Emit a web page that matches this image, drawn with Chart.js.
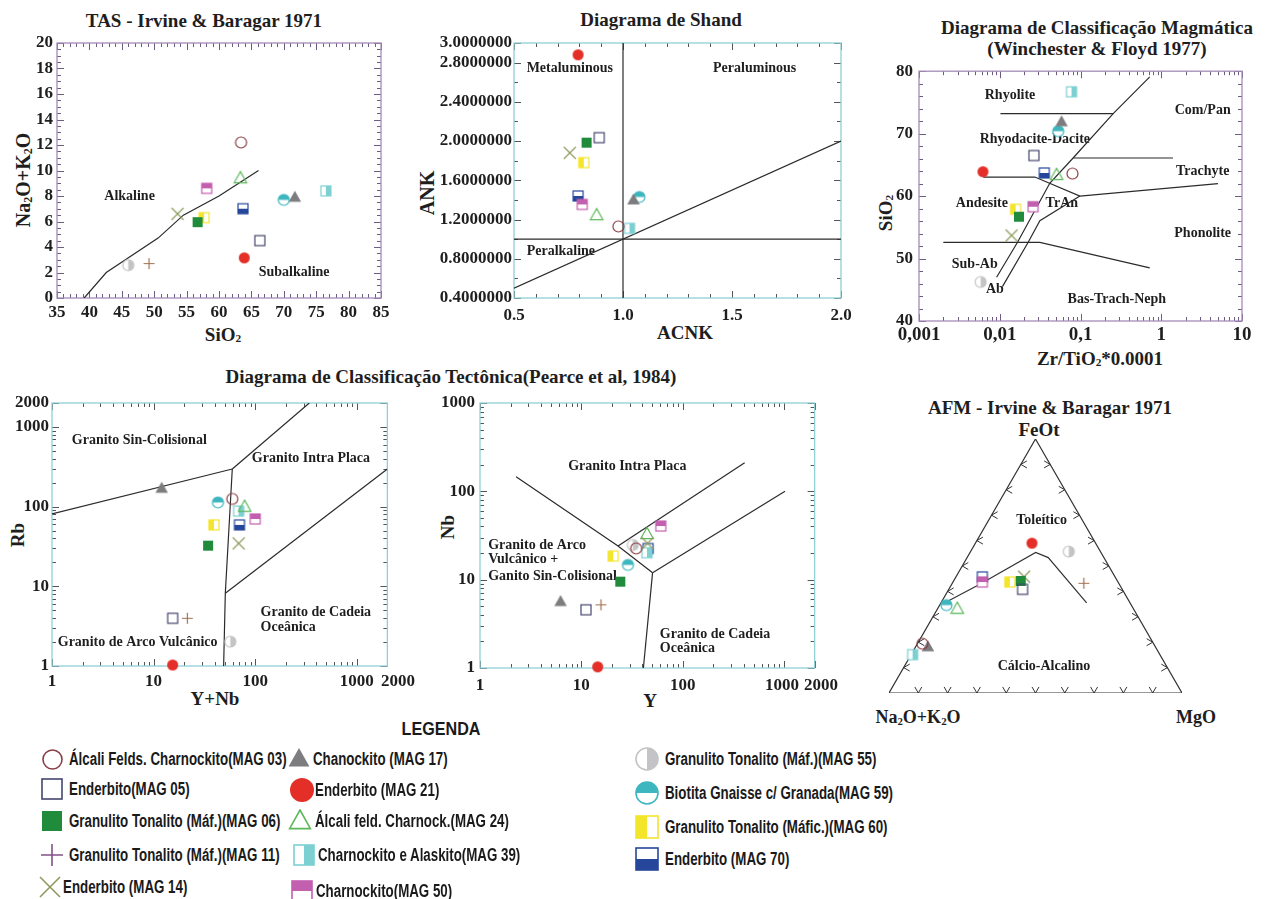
<!DOCTYPE html>
<html lang="pt">
<head>
<meta charset="utf-8">
<title>Diagramas geoquimicos</title>
<script src="https://cdn.jsdelivr.net/npm/chart.js@4.4.1/dist/chart.umd.min.js"></script>
<style>
  body { margin:0; width:1271px; height:899px; position:relative; overflow:hidden; background:#fff;
         font-family:"Liberation Serif","Times New Roman",serif; color:#1e1e1e; }
  canvas { position:absolute; }
  .t { position:absolute; font-weight:bold; white-space:nowrap; transform:translate(-50%,-50%); line-height:1; }
  .r { transform:translate(-50%,-50%) rotate(-90deg); }
  .t sub { font-size:0.6em; vertical-align:-0.15em; line-height:0; }
  .lg { position:absolute; font-family:"Liberation Sans",Arial,sans-serif; font-weight:bold; font-size:18px;
        white-space:nowrap; transform-origin:0 50%; transform:translateY(-50%) scaleX(0.74); line-height:1; color:#1a1a1a; }
  .head { position:absolute; font-family:"Liberation Sans",Arial,sans-serif; font-weight:bold; font-size:19px;
          transform:translate(-50%,-50%) scaleX(0.85); line-height:1; color:#1a1a1a; }
</style>
</head>
<body>

<!-- titles -->
<div class="t" style="left:204px;top:20px;font-size:19px">TAS - Irvine &amp; Baragar 1971</div>
<div class="t" style="left:661px;top:19px;font-size:19px">Diagrama de Shand</div>
<div class="t" style="left:1097px;top:27px;font-size:19px">Diagrama de Classificação Magmática</div>
<div class="t" style="left:1097px;top:48px;font-size:19px">(Winchester &amp; Floyd 1977)</div>
<div class="t" style="left:451px;top:376px;font-size:19px">Diagrama de Classificação Tectônica(Pearce et al, 1984)</div>
<div class="t" style="left:1050px;top:407px;font-size:19px">AFM - Irvine &amp; Baragar 1971</div>
<div class="t" style="left:1039px;top:429px;font-size:19px">FeOt</div>
<div class="t" style="left:918px;top:717px;font-size:18px">Na<sub>2</sub>O+K<sub>2</sub>O</div>
<div class="t" style="left:1196px;top:717px;font-size:18px">MgO</div>

<!-- axis titles -->
<div class="t" style="left:223px;top:334px;font-size:19px">SiO<sub>2</sub></div>
<div class="t r" style="left:23px;top:180px;font-size:20px">Na<sub>2</sub>O+K<sub>2</sub>O</div>
<div class="t" style="left:685px;top:332px;font-size:19px">ACNK</div>
<div class="t r" style="left:427px;top:193px;font-size:20px">ANK</div>
<div class="t" style="left:1100px;top:358px;font-size:19px">Zr/TiO<sub>2</sub>*0.0001</div>
<div class="t r" style="left:885px;top:213px;font-size:19px">SiO<sub>2</sub></div>
<div class="t" style="left:215px;top:698px;font-size:19px">Y+Nb</div>
<div class="t r" style="left:17px;top:535px;font-size:19px">Rb</div>
<div class="t" style="left:650px;top:700px;font-size:19px">Y</div>
<div class="t r" style="left:447px;top:527px;font-size:19px">Nb</div>

<div class="head" style="left:441px;top:728px">LEGENDA</div>

<script>
// AMOSTRAS
const samples = ['MAG 03','MAG 05','MAG 06','MAG 11','MAG 14','MAG 17','MAG 21','MAG 24','MAG 39','MAG 50','MAG 55','MAG 59','MAG 60','MAG 70'];
const names = ['Álcali Felds. Charnockito(MAG 03)','Enderbito(MAG 05)','Granulito Tonalito (Máf.)(MAG 06)',
  'Granulito Tonalito (Máf.)(MAG 11)','Enderbito (MAG 14)','Chanockito (MAG 17)','Enderbito (MAG 21)',
  'Álcali feld. Charnock.(MAG 24)','Charnockito e Alaskito(MAG 39)','Charnockito(MAG 50)',
  'Granulito Tonalito (Máf.)(MAG 55)','Biotita Gnaisse c/ Granada(MAG 59)','Granulito Tonalito (Máfic.)(MAG 60)','Enderbito (MAG 70)'];

// TAS
const tasSiO2 = [63.4, 66.3, 56.7, 49.2, 53.6, 71.7, 63.9, 63.3, 76.5, 58.1, 46.0, 70.0, 57.7, 63.7];
const tasAlk  = [12.2, 4.5, 5.95, 2.7, 6.6, 7.9, 3.15, 9.4, 8.4, 8.6, 2.57, 7.7, 6.3, 7.0];
const tasLine = [[39.2,0],[42.6,2],[50.6,4.7],[54.5,6.5],[60,8],[66.1,10]];

// SHAND
const acnk = [0.979, 0.891, 0.833, null, 0.756, 1.048, 0.794, 0.879, 1.03, 0.813, null, 1.075, 0.82, 0.794];
const ank  = [1.13, 2.035, 1.984, null, 1.88, 1.40, 2.88, 1.245, 1.11, 1.354, null, 1.43, 1.78, 1.44];

// WINCHESTER & FLOYD
const zrTi = [0.0796, 0.0265, 0.0173, null, 0.014, 0.0582, 0.0062, 0.0505, 0.0775, 0.0259, 0.0058, 0.053, 0.0157, 0.0356];
const wfSiO2 = [63.6, 66.5, 56.7, null, 53.7, 71.9, 63.9, 63.4, 76.7, 58.3, 46.25, 70.4, 57.9, 63.7];
const wfLines = [
  [[0.0102,73.2],[0.254,73.2]],
  [[0.00914,47.0],[0.0166,52.6],[0.0418,62.1],[0.081,66.1],[0.254,73.2],[0.72,79.1]],
  [[0.081,66.1],[1.4,66.1]],
  [[0.00625,63.05],[0.0272,63.05],[0.0983,60.0],[5.05,62.0]],
  [[0.0108,45.5],[0.0225,52.6],[0.0314,56.05],[0.0983,60.0]],
  [[0.002,52.6],[0.0314,52.6],[0.72,48.5]]
];

// PEARCE Rb x Y+Nb
const yNb = [59.5, 15.4, 34.4, 21.5, 68.7, 12.0, 15.4, 78.6, 68.7, 100, 56.9, 43, 39.3, 70];
const rb  = [125, 3.97, 32.4, 3.97, 34.6, 170, 1.03, 100, 88, 70, 2.02, 113, 59, 59];
const p1Lines = [
  [[1,80.9],[59.5,297]],
  [[59.5,297],[50.8,8.17],[48.9,1]],
  [[59.5,297],[341,2000]],
  [[50.8,8.17],[2000,297]]
];

// PEARCE Nb x Y
const yv = [34.7, 11.1, 24.2, 15.6, 45, 6.23, 14.5, 44.4, 44.4, 60.7, 32.2, 28.8, 20.6, 45.5];
const nb = [22.6, 4.56, 9.5, 5.19, 25.8, 5.66, 1.03, 32.9, 20.2, 40.5, 24.7, 14.7, 18.5, 22.5];
const p2Lines = [
  [[2.27,146],[23,24],[50.4,12]],
  [[23,24],[408,210]],
  [[50.4,12],[1021,100]],
  [[50.4,12],[40.9,1]]
];

// AFM (Na2O+K2O, FeOt, MgO)
const afmA = [78.9, 34.0, 33.0, 11.9, 31.0, 77.6, 21.7, 60.1, 84.4, 46.3, 10.8, 63.1, 36.9, 45.3];
const afmF = [19.4, 40.8, 44.1, 43.2, 45.8, 18.2, 59.0, 33.2, 15.1, 43.7, 55.7, 34.6, 43.7, 45.7];
const afmM = [1.7, 25.2, 22.9, 44.9, 23.2, 4.2, 19.3, 6.7, 0.5, 10.0, 33.5, 2.3, 19.4, 9.0];
const afmLine = [[61.7,36.2,2.1],[47.6,42.8,9.6],[22.3,55.3,22.4],[19.0,53.3,27.7],[14.8,35.5,49.7]];

// tick values
const tasXTicks = [35,40,45,50,55,60,65,70,75,80,85];
const tasYTicks = [0,2,4,6,8,10,12,14,16,18,20];
const shandXTicks = [0.5,1.0,1.5,2.0];
const shandYTicks = [0.4,0.8,1.2,1.6,2.0,2.4,2.8,3.0];
const wfXTicks = [0.001,0.01,0.1,1,10];
const wfYTicks = [40,50,60,70,80];
const pearceTicks = [1,10,100,1000,2000];

// region names (text, x, y, align)
const tasLabels = [['Alkaline',46.2,8.0],['Subalkaline',71.6,2.0]];
const shandLabels = [['Metaluminous',0.756,2.744],['Peraluminous',1.604,2.744],['Peralkaline',0.715,0.877]];
const wfLabels = [['Rhyolite',0.0134,76.2],['Com/Pan',3.26,73.7],['Rhyodacite-Dacite',0.0272,69.1],['Trachyte',3.26,64.0],
  ['Andesite',0.006,58.9],['TrAn',0.0587,58.9],['Phonolite',3.26,54.1],['Sub-Ab',0.0049,49.1],['Ab',0.0087,45.1],['Bas-Trach-Neph',0.282,43.5]];
const p1Labels = [['Granito Sin-Colisional',7.23,687],['Granito Intra Placa',354,404],['Granito de Cadeia',113,4.67,'left'],
  ['Oceânica',113,3.06,'left'],['Granito de Arco Vulcânico',6.97,1.96]];
const p2Labels = [['Granito Intra Placa',28.4,193],['Granito de Arco',1.205,24.7,'left'],['Vulcânico +',1.205,17.0,'left'],
  ['Ganito Sin-Colisional',1.205,10.8,'left'],['Granito de Cadeia',59.4,2.38,'left'],['Oceânica',59.4,1.65,'left']];
const afmLabels = [['Toleítico',14.0,67.8,18.2],['Cálcio-Alcalino',41.9,10.4,47.7]];

//SYMBOLS
const symbols = [
  {shape:'circle', color:'#8a3d45'},
  {shape:'square', color:'#45456e'},
  {shape:'square', fill:true, color:'#1f8b3b'},
  {shape:'plus', color:'#a07050', legendColor:'#84508a'},
  {shape:'cross', color:'#8c9a5c'},
  {shape:'tri', fill:true, color:'#7d7d80'},
  {shape:'circle', fill:true, color:'#e42f28'},
  {shape:'tri', color:'#5db85b'},
  {shape:'half', part:'right', color:'#7dd0d2'},
  {shape:'half', part:'top', color:'#c25fae'},
  {shape:'halfc', part:'right', color:'#c4c4c6'},
  {shape:'halfc', part:'top', color:'#3db6bf'},
  {shape:'half', part:'left', color:'#f3e52a'},
  {shape:'half', part:'bottom', color:'#26469b'}
];

function symbolCanvas(k, s, legend) {
  const sym = symbols[k];
  const col = legend && sym.legendColor ? sym.legendColor : sym.color;
  const c = document.createElement('canvas');
  c.width = c.height = Math.ceil(s + 4);
  const g = c.getContext('2d');
  g.translate(c.width / 2, c.height / 2);
  const h = s / 2;
  g.lineWidth = legend ? 1.6 : 1.2;
  g.strokeStyle = col; g.fillStyle = col;
  g.beginPath();
  if (sym.shape === 'circle') {
    g.arc(0, 0, h, 0, Math.PI * 2);
    if (sym.fill) g.fill(); else g.stroke();
  } else if (sym.shape === 'square') {
    if (sym.fill) g.fillRect(-h, -h, s, s); else g.strokeRect(-h, -h, s, s);
  } else if (sym.shape === 'tri') {
    g.moveTo(0, -0.55 * s); g.lineTo(0.52 * s, 0.38 * s); g.lineTo(-0.52 * s, 0.38 * s); g.closePath();
    if (sym.fill) g.fill(); else g.stroke();
  } else if (sym.shape === 'plus') {
    g.moveTo(-h, 0); g.lineTo(h, 0); g.moveTo(0, -h); g.lineTo(0, h); g.stroke();
  } else if (sym.shape === 'cross') {
    g.moveTo(-h, -h); g.lineTo(h, h); g.moveTo(-h, h); g.lineTo(h, -h); g.stroke();
  } else if (sym.shape === 'half') {
    g.fillStyle = '#fff'; g.fillRect(-h, -h, s, s);
    g.fillStyle = col;
    const r = {left:[-h,-h,h,s], right:[0,-h,h,s], top:[-h,-h,s,h], bottom:[-h,0,s,h]}[sym.part];
    g.fillRect(r[0], r[1], r[2], r[3]);
    g.strokeRect(-h, -h, s, s);
  } else if (sym.shape === 'halfc') {
    g.fillStyle = '#fff'; g.arc(0, 0, h, 0, Math.PI * 2); g.fill();
    g.save();
    g.beginPath();
    if (sym.part === 'right') g.rect(0, -h - 1, h + 1, s + 2); else g.rect(-h - 1, -h - 1, s + 2, h + 1);
    g.clip();
    g.fillStyle = col; g.beginPath(); g.arc(0, 0, h, 0, Math.PI * 2); g.fill();
    g.restore();
    g.beginPath(); g.arc(0, 0, h, 0, Math.PI * 2); g.stroke();
  }
  return c;
}

const chartSizes = [11, 10, 10, 11, 12, 12, 11, 12, 10, 10, 11, 11, 10, 10];
const chartIcons = samples.map((s, i) => symbolCanvas(i, chartSizes[i], false));

function makeCanvas(left, top, w, h) {
  const cv = document.createElement('canvas');
  cv.width = w; cv.height = h;
  cv.style.left = left + 'px'; cv.style.top = top + 'px';
  cv.style.width = w + 'px'; cv.style.height = h + 'px';
  document.body.appendChild(cv);
  return cv;
}

function range(a, b, st) { const r = []; for (let v = a; v <= b + 1e-9; v += st) r.push(+v.toFixed(6)); return r; }
function logMinor(a, b) { const r = []; for (let d = a; d < b; d *= 10) for (let k = 2; k <= 9; k++) if (d * k <= b * 1.0001) r.push(d * k); return r; }

const TF = {family:'Liberation Serif', size:17, weight:'bold'};

// frame, inner ticks and region names
function decor(p) {
  return {
    id: 'decor',
    beforeDatasetsDraw(chart) {
      const {ctx, chartArea: a, scales: {x, y}} = chart;
      ctx.save();
      ctx.strokeStyle = p.tickColor; ctx.lineWidth = 1;
      ctx.beginPath();
      const xt = (vals, len) => vals.forEach(v => {
        const px = Math.round(x.getPixelForValue(v)) + 0.5;
        ctx.moveTo(px, a.bottom); ctx.lineTo(px, a.bottom - len);
        ctx.moveTo(px, a.top); ctx.lineTo(px, a.top + len);
      });
      const yt = (vals, len) => vals.forEach(v => {
        const py = Math.round(y.getPixelForValue(v)) + 0.5;
        ctx.moveTo(a.left, py); ctx.lineTo(a.left + len, py);
        ctx.moveTo(a.right, py); ctx.lineTo(a.right - len, py);
      });
      xt(p.xTicks, 7); xt(p.xMinor, 4); yt(p.yTicks, 7); yt(p.yMinor, 4);
      ctx.stroke();
      ctx.strokeStyle = p.frame; ctx.lineWidth = 1.3;
      ctx.strokeRect(a.left, a.top, a.right - a.left, a.bottom - a.top);
      ctx.fillStyle = '#1e1e1e'; ctx.font = 'bold 14px "Liberation Serif"'; ctx.textBaseline = 'middle';
      p.labels.forEach(l => {
        ctx.textAlign = l[3] || 'center';
        ctx.fillText(l[0], x.getPixelForValue(l[1]), y.getPixelForValue(l[2]));
      });
      ctx.restore();
    }
  };
}

function panel(p) {
  const cv = makeCanvas(p.box[0], p.box[1], p.box[2], p.box[3]);
  const datasets = [];
  p.lines.forEach(l => datasets.push({
    data: l.map(q => ({x: q[0], y: q[1]})), showLine: true, borderColor: '#2b2b2b',
    borderWidth: 1.2, pointRadius: 0, order: 2
  }));
  samples.forEach((s, i) => {
    if (p.xs[i] == null) return;
    datasets.push({label: s, data: [{x: p.xs[i], y: p.ys[i]}], pointStyle: chartIcons[i], pointRadius: 6, clip: false, order: 1});
  });
  return new Chart(cv, {
    type: 'scatter',
    data: {datasets},
    options: {
      responsive: false, animation: false, events: [], devicePixelRatio: 1,
      layout: {padding: {top: p.pt, right: p.pr, bottom: 0, left: 0}},
      plugins: {legend: {display: false}, tooltip: {enabled: false}},
      scales: {
        x: {
          type: p.xType, min: p.xMin, max: p.xMax,
          grid: {display: false, drawTicks: false}, border: {display: false},
          afterFit: s => { s.height = p.H; },
          afterBuildTicks: s => { s.ticks = p.xTicks.map(v => ({value: v})); },
          ticks: {font: p.xFont || TF, color: '#1e1e1e', padding: p.xPad, autoSkip: false, maxRotation: 0, minRotation: 0, callback: p.xFmt}
        },
        y: {
          type: p.yType, min: p.yMin, max: p.yMax,
          grid: {display: false, drawTicks: false}, border: {display: false},
          afterFit: s => { s.width = p.W; },
          afterBuildTicks: s => { s.ticks = p.yTicks.map(v => ({value: v})); },
          ticks: {font: TF, color: '#1e1e1e', padding: p.yPad, autoSkip: false, callback: p.yFmt}
        }
      }
    },
    plugins: [decor(p)]
  });
}

const purpleFrame = '#a58cb8', cyanFrame = '#8fd0d6';

// TAS
panel({box: [0, 25, 401, 323], W: 57, H: 50, pt: 18, pr: 20, xPad: 4, yPad: 4,
  xType: 'linear', xMin: 35, xMax: 85, yType: 'linear', yMin: 0, yMax: 20,
  xTicks: tasXTicks, yTicks: tasYTicks, xMinor: range(35, 85, 1), yMinor: range(0, 20, 0.5),
  xFmt: v => String(v), yFmt: v => String(v),
  frame: purpleFrame, tickColor: '#6e5b80', labels: tasLabels,
  lines: [tasLine], xs: tasSiO2, ys: tasAlk});

// SHAND
panel({box: [410, 25, 451, 323], W: 104, H: 50, pt: 18, pr: 20, xPad: 7, yPad: 2,
  xType: 'linear', xMin: 0.5, xMax: 2.0, yType: 'linear', yMin: 0.4, yMax: 3.0,
  xTicks: shandXTicks, yTicks: shandYTicks, xMinor: range(0.5, 2.0, 0.1), yMinor: range(0.4, 3.0, 0.2),
  xFmt: v => v.toFixed(1), yFmt: v => v.toFixed(7),
  frame: cyanFrame, tickColor: '#555', labels: shandLabels,
  lines: [[[1, 0.4], [1, 3]], [[0.5, 1], [2, 1]], [[0.5, 0.5], [2, 2]]], xs: acnk, ys: ank});

// WINCHESTER & FLOYD
panel({box: [860, 55, 402, 316], W: 59, H: 50, pt: 14, pr: 20, xPad: 3, yPad: 6,
  xType: 'logarithmic', xMin: 0.001, xMax: 10, yType: 'linear', yMin: 40, yMax: 80,
  xTicks: wfXTicks, yTicks: wfYTicks, xMinor: logMinor(0.001, 10), yMinor: range(40, 80, 2),
  xFont: {family:'Liberation Serif', size:19, weight:'bold'},
  xFmt: v => String(v).replace('.', ','), yFmt: v => String(v),
  frame: purpleFrame, tickColor: '#6e5b80', labels: wfLabels,
  lines: wfLines, xs: zrTi, ys: wfSiO2});

// PEARCE Rb
panel({box: [0, 385, 420, 311], W: 52, H: 30, pt: 18, pr: 32, xPad: 5, yPad: 3,
  xType: 'logarithmic', xMin: 1, xMax: 2000, yType: 'logarithmic', yMin: 1, yMax: 2000,
  xTicks: pearceTicks, yTicks: pearceTicks, xMinor: logMinor(1, 2000), yMinor: logMinor(1, 2000),
  xFmt: v => v === 2000 ? '     2000' : String(v), yFmt: v => String(v),
  frame: cyanFrame, tickColor: '#555', labels: p1Labels,
  lines: p1Lines, xs: yNb, ys: rb});

// PEARCE Nb
panel({box: [420, 385, 425, 313], W: 60, H: 30, pt: 18, pr: 25, xPad: 7, yPad: 5,
  xType: 'logarithmic', xMin: 1, xMax: 2000, yType: 'logarithmic', yMin: 1, yMax: 1000,
  xTicks: pearceTicks, yTicks: [1, 10, 100, 1000], xMinor: logMinor(1, 2000), yMinor: logMinor(1, 1000),
  xFmt: v => v === 2000 ? '   2000' : (v === 1000 ? '1000 ' : String(v)), yFmt: v => String(v),
  frame: cyanFrame, tickColor: '#555', labels: p2Labels,
  lines: p2Lines, xs: yv, ys: nb});

// AFM ternary
function tern(a, f, m) { const t = a + f + m; return {x: 100 * (m + f / 2) / t, y: 100 * (f * Math.sqrt(3) / 2) / t}; }

const afmPlugin = {
  id: 'afm',
  beforeDatasetsDraw(chart) {
    const {ctx, scales: {x, y}} = chart;
    const P = (a, f, m) => { const t = tern(a, f, m); return [x.getPixelForValue(t.x), y.getPixelForValue(t.y)]; };
    const A = P(100, 0, 0), F = P(0, 100, 0), M = P(0, 0, 100);
    const L = 7, c = Math.cos(Math.PI / 6), s = Math.sin(Math.PI / 6);
    ctx.save();
    ctx.strokeStyle = '#333'; ctx.lineWidth = 1;
    ctx.beginPath();
    const chev = (px, py, d1, d2) => {
      ctx.moveTo(px + L * d1[0], py + L * d1[1]); ctx.lineTo(px, py); ctx.lineTo(px + L * d2[0], py + L * d2[1]);
    };
    for (let k = 1; k < 10; k++) {
      const t = k / 10;
      chev(A[0] + (F[0] - A[0]) * t, A[1] + (F[1] - A[1]) * t, [c, -s], [c, s]);
      chev(M[0] + (F[0] - M[0]) * t, M[1] + (F[1] - M[1]) * t, [-c, -s], [-c, s]);
      chev(A[0] + (M[0] - A[0]) * t, A[1], [s, -c], [-s, -c]);
    }
    ctx.stroke();
    ctx.fillStyle = '#1e1e1e'; ctx.font = 'bold 14px "Liberation Serif"';
    ctx.textAlign = 'center'; ctx.textBaseline = 'middle';
    afmLabels.forEach(l => { const q = P(l[1], l[2], l[3]); ctx.fillText(l[0], q[0], q[1]); });
    ctx.restore();
  }
};

(function () {
  const cv = makeCanvas(869, 419, 333, 294);
  const datasets = [];
  const tri = [[100, 0, 0], [0, 100, 0], [0, 0, 100], [100, 0, 0]];
  datasets.push({data: tri.map(q => tern(q[0], q[1], q[2])), showLine: true, borderColor: '#333', borderWidth: 1.2, pointRadius: 0, order: 2});
  datasets.push({data: afmLine.map(q => tern(q[0], q[1], q[2])), showLine: true, borderColor: '#333', borderWidth: 1.2, pointRadius: 0, order: 2});
  samples.forEach((s, i) => {
    datasets.push({label: s, data: [tern(afmA[i], afmF[i], afmM[i])], pointStyle: chartIcons[i], pointRadius: 6, clip: false, order: 1});
  });
  new Chart(cv, {
    type: 'scatter',
    data: {datasets},
    options: {
      responsive: false, animation: false, events: [], devicePixelRatio: 1,
      layout: {padding: 20},
      plugins: {legend: {display: false}, tooltip: {enabled: false}},
      scales: {
        x: {display: false, min: 0, max: 100},
        y: {display: false, min: 0, max: 100 * Math.sqrt(3) / 2}
      }
    },
    plugins: [afmPlugin]
  });
})();

// LEGENDA
const legendPos = [[52,69,759],[52,69,789],[52,69,821],[52,69,855],[50,63,887],
  [299,313,759],[302,315,790],[300,315,821],[304,318,855],[302,316,891],
  [647,665,759],[647,665,793],[647,665,827],[647,665,859]];
const legendSize = [19,20,20,22,20, 20,24,20,20,20, 22,22,22,22];

samples.forEach((s, i) => {
  const pos = legendPos[i];
  const ic = symbolCanvas(i, legendSize[i], true);
  ic.style.left = (pos[0] - ic.width / 2) + 'px';
  ic.style.top = (pos[2] - ic.height / 2) + 'px';
  document.body.appendChild(ic);
  const d = document.createElement('div');
  d.className = 'lg';
  d.textContent = names[i];
  d.style.left = pos[1] + 'px';
  d.style.top = pos[2] + 'px';
  document.body.appendChild(d);
});
</script>
</body>
</html>
